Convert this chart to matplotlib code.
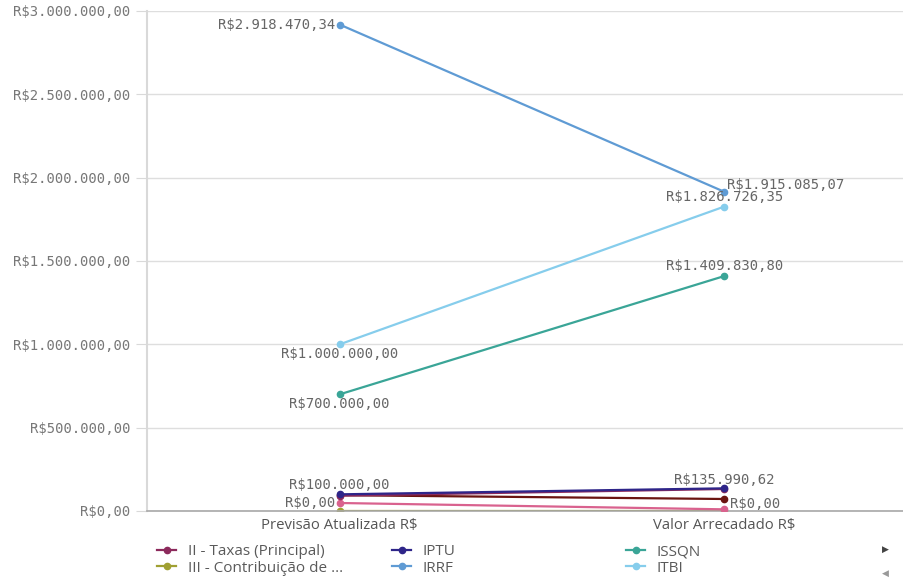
import matplotlib
matplotlib.use("Agg")
import matplotlib.pyplot as plt
from matplotlib.lines import Line2D

categories = ["Previsão Atualizada R$", "Valor Arrecadado R$"]

series_names = ["II - Taxas (Principal)", "IPTU", "ISSQN",
                "III - Contribuição de ...", "IRRF", "ITBI",
                "IV - Outras", "V - Outras"]
series_values = {
    "II - Taxas (Principal)": [92000, 132000],
    "IPTU": [100000, 135990.62],
    "ISSQN": [700000, 1409830.80],
    "III - Contribuição de ...": [0, 0],
    "IRRF": [2918470.34, 1915085.07],
    "ITBI": [1000000, 1826726.35],
    "IV - Outras": [95000, 72000],
    "V - Outras": [48000, 10000],
}
series_colors = {
    "II - Taxas (Principal)": "#8c2a5c",
    "IPTU": "#2e2589",
    "ISSQN": "#3aa597",
    "III - Contribuição de ...": "#a0a032",
    "IRRF": "#5f9bd4",
    "ITBI": "#86cdec",
    "IV - Outras": "#6b1410",
    "V - Outras": "#d9628e",
}
legend_columns = [["II - Taxas (Principal)", "III - Contribuição de ..."],
                  ["IPTU", "IRRF"],
                  ["ISSQN", "ITBI"]]

yticks = [0, 500000, 1000000, 1500000, 2000000, 2500000, 3000000]


def brl(v):
    s = f"{v:,.2f}"
    s = s.replace(",", "X").replace(".", ",").replace("X", ".")
    return "R$" + s


fig = plt.figure(figsize=(9.04, 5.79), dpi=100)
ax = fig.add_axes([147/904, 1-511/579, 757/904, 500/579])

x = [0, 1]
draw_order = ["III - Contribuição de ...", "V - Outras", "IV - Outras",
              "II - Taxas (Principal)", "IPTU", "ISSQN", "ITBI", "IRRF"]
for name in draw_order:
    z = 2 if name == "III - Contribuição de ..." else 3
    ax.plot(x, series_values[name], color=series_colors[name], lw=1.6,
            marker="o", ms=4.5, zorder=z, solid_capstyle="round")

ax.set_xlim(-0.501, 1.467)
ax.set_ylim(0, 3000000)
ax.set_yticks(yticks)
ax.set_yticklabels([brl(v) for v in yticks], family="DejaVu Sans Mono",
                   fontsize=10, color="#777777")
ax.set_xticks(x)
ax.set_xticklabels(categories, family="Open Sans", fontsize=10.7, color="#555555")
ax.tick_params(axis="y", length=8, color="#d9d9d9", pad=4.2)
ax.tick_params(axis="x", length=0, pad=5)
ax.grid(axis="y", color="#dedede", lw=1)
ax.set_axisbelow(True)
for s in ["top", "right"]:
    ax.spines[s].set_visible(False)
ax.spines["left"].set_color("#d9d9d9")
ax.spines["left"].set_linewidth(1.5)
ax.spines["bottom"].set_color("#a8a8a8")
ax.spines["bottom"].set_linewidth(1.2)
ax.spines["bottom"].set_zorder(2.6)

lab = dict(family="DejaVu Sans Mono", fontsize=10, color="#666666", zorder=5)

def ann(xv, yv, text, dx, dy, ha, va):
    ax.annotate(text, (xv, yv), xytext=(dx, dy), textcoords="offset points",
                ha=ha, va=va, **lab)

irrf = series_values["IRRF"]
itbi = series_values["ITBI"]
iss = series_values["ISSQN"]
iptu = series_values["IPTU"]
iii = series_values["III - Contribuição de ..."]

ann(0, irrf[0], brl(irrf[0]), -3, 0, "right", "center")
ann(1, irrf[1], brl(irrf[1]), 2, 5, "left", "center")
ann(1, itbi[1], brl(itbi[1]), 0, 7, "center", "center")
ann(0, itbi[0], brl(itbi[0]), 0, -7, "center", "center")
ann(0, iss[0], brl(iss[0]), 0, -7, "center", "center")
ann(1, iss[1], brl(iss[1]), 0, 7, "center", "center")
ann(0, iptu[0], brl(iptu[0]), 0, 7, "center", "center")
ann(1, iptu[1], brl(iptu[1]), 0, 6, "center", "center")
ann(0, series_values["V - Outras"][0], brl(iii[0]), -3, 0, "right", "center")
ann(1, series_values["V - Outras"][1], brl(iii[1]), 4, 4, "left", "center")

col_x = [157, 392, 626]
for cx, names in zip(col_x, legend_columns):
    handles = [Line2D([0], [0], color=series_colors[n], lw=1.6, marker="o", ms=4.5)
               for n in names]
    fig.legend(handles, names, loc="upper left",
               bbox_to_anchor=(cx/904, 1-544/579), frameon=False,
               prop={"family": "Open Sans", "size": 11}, labelcolor="#5a5a5a",
               handlelength=1.25, handletextpad=0.75, borderpad=0,
               borderaxespad=0, labelspacing=0.1)

fig.text(885/904, 1-549/579, "▶", fontsize=6.5, color="#444444", ha="center", va="center")
fig.text(885/904, 1-573/579, "◀", fontsize=6.5, color="#999999", ha="center", va="center")

fig.savefig("out.png", dpi=100)
